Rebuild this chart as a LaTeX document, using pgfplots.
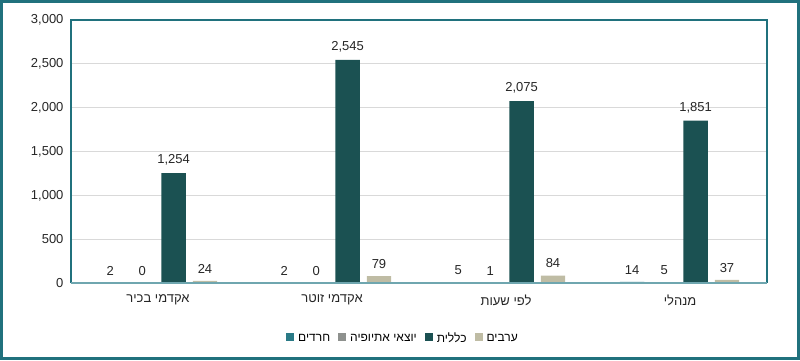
\documentclass[border=0pt]{standalone}
\usepackage{fontspec}
\setmainfont{Liberation Sans}
\newfontfamily\heb[Script=Hebrew]{Liberation Sans}
\TeXXeTstate=1
\usepackage{pgfplots}
\pgfplotsset{compat=1.18}
\definecolor{frameteal}{HTML}{20717D}
\definecolor{cHaredi}{HTML}{2A7A86}
\definecolor{cEthiop}{HTML}{8E918E}
\definecolor{cGeneral}{HTML}{1B5152}
\definecolor{cArab}{HTML}{BFBCA4}
\definecolor{baseteal}{HTML}{6FA6AF}
\begin{document}
\begin{tikzpicture}[x=1pt,y=1pt]
\useasboundingbox (0,0) rectangle (800,360);
\draw[frameteal, line width=3pt] (1.5,1.5) rectangle (798.5,358.5);
\begin{axis}[
  at={(71pt,77pt)}, anchor=south west,
  scale only axis, width=696pt, height=263pt,
  clip=false,
  ybar, bar width=0.14,
  xmin=-0.5, xmax=3.5, ymin=0, ymax=3000,
  xtick={0,1,2,3},
  xticklabels={{\heb\beginR אקדמי בכיר\endR},{\heb\beginR אקדמי זוטר\endR},{\heb\beginR לפי שעות\endR},{\heb\beginR מנהלי\endR}},
  ytick={0,500,...,3000},
  major tick length=0pt,
  ymajorgrids, grid style={draw=black!15, line width=0.8pt},
  axis line style={draw=none},
  scaled y ticks=false,
  /pgf/number format/.cd, fixed, 1000 sep={,}, assume math mode=true, /pgfplots/.cd,
  tick label style={font=\fontsize{13}{15}\selectfont, text=black!85},
  yticklabel style={xshift=-4pt},
  xticklabel style={yshift=-8pt},
  nodes near coords,
  every node near coord/.append style={font=\fontsize{13}{15}\selectfont, text=black!85, yshift=4pt},
  legend columns=4,
  legend style={draw=none, at={(0.477,-0.21)}, anchor=center,
    font=\fontsize{12}{14}\selectfont, column sep=2pt,
    /tikz/every even column/.append style={column sep=6pt}},
  legend image code/.code={\path[#1] (0pt,-3pt) rectangle (8pt,5pt);},
]
\addplot[fill=cHaredi, draw=none, bar shift=-0.275] coordinates {(0,2) (1,2) (2,5) (3,14)};
\addplot[fill=cEthiop, draw=none, bar shift=-0.09] coordinates {(0,0) (1,0) (2,1) (3,5)};
\addplot[fill=cGeneral, draw=none, bar shift=0.09] coordinates {(0,1254) (1,2545) (2,2075) (3,1851)};
\addplot[fill=cArab, draw=none, bar shift=0.27] coordinates {(0,24) (1,79) (2,84) (3,37)};
\legend{{\heb\beginR חרדים\endR},{\heb\beginR יוצאי אתיופיה\endR},{\heb\beginR כללית\endR},{\heb\beginR ערבים\endR}}
\draw[frameteal, line width=2.2pt] (rel axis cs:0,0) -- (rel axis cs:0,1) -- (rel axis cs:1,1) -- (rel axis cs:1,0);
\draw[draw=baseteal, line width=1.5pt] (rel axis cs:0,0) -- (rel axis cs:1,0);
\end{axis}
\end{tikzpicture}
\end{document}
